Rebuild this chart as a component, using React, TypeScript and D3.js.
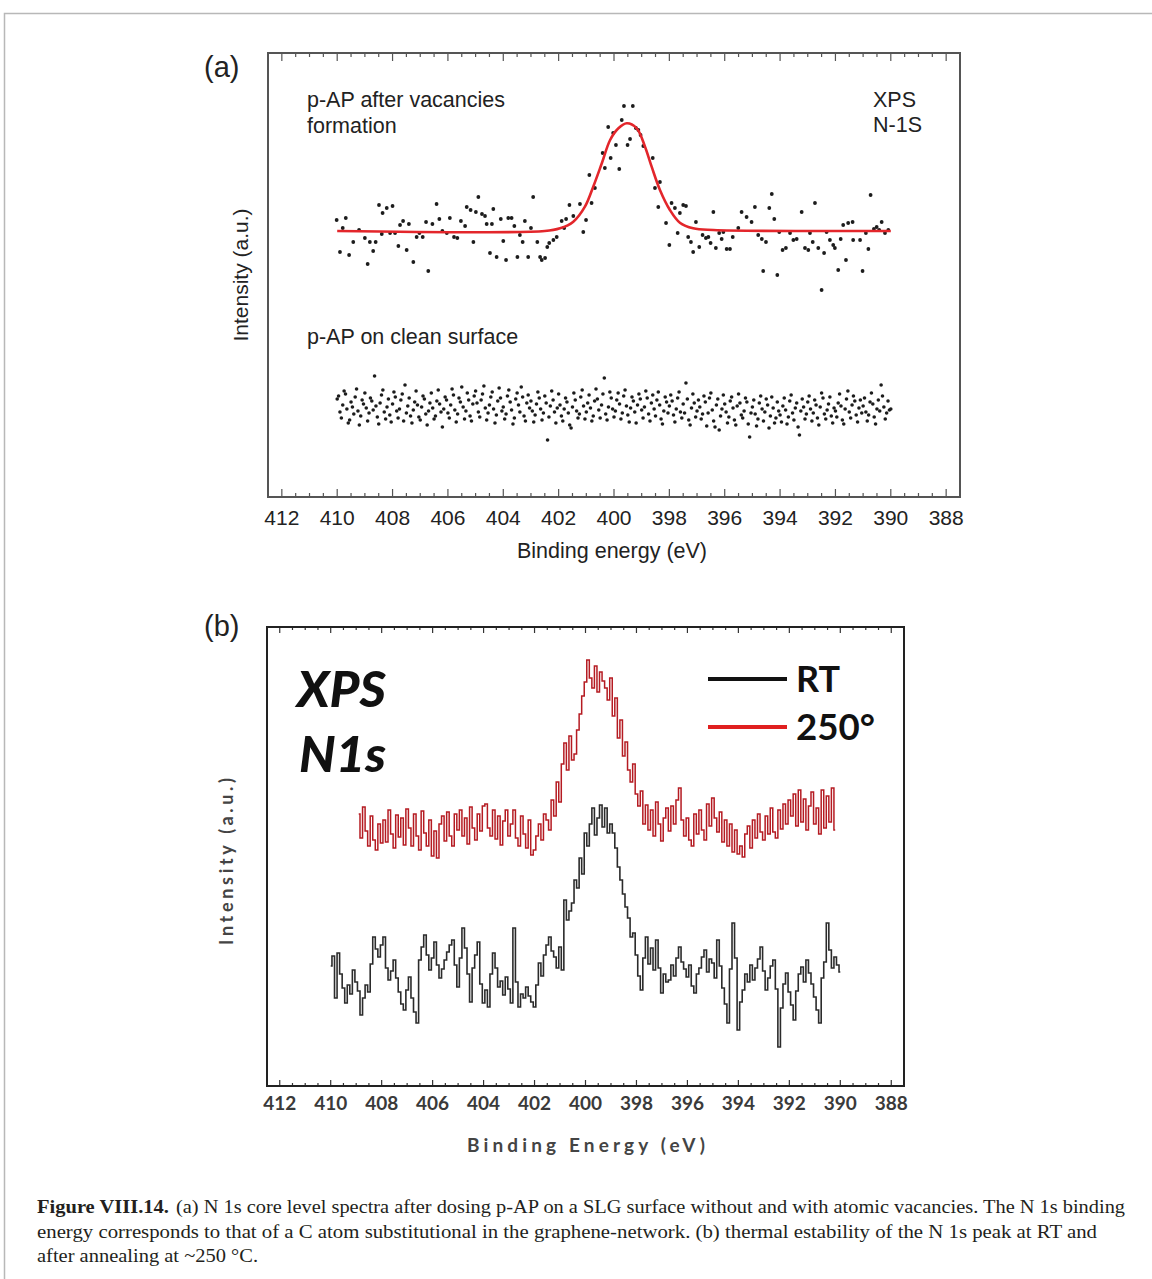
import React from 'react';
import * as d3 from 'd3';

// ---------- Panel (a) data ----------
const tickLabels = ['412', '410', '408', '406', '404', '402', '400', '398', '396', '394', '392', '390', '388'];

// p-AP after vacancies formation (scatter), binding energy (eV) / intensity (a.u.)
const vacE = [410.02,409.90,409.80,409.69,409.57,409.42,409.21,409.00,408.90,408.82,408.70,408.61,408.49,408.39,408.36,408.21,408.09,408.00,407.91,407.79,407.73,407.62,407.49,407.41,407.25,407.13,407.03,406.91,406.79,406.71,406.56,406.41,406.31,406.20,406.04,405.93,405.78,405.66,405.53,405.38,405.32,405.18,405.08,404.99,404.90,404.77,404.66,404.60,404.48,404.41,404.36,404.24,404.09,404.00,403.90,403.82,403.70,403.60,403.49,403.40,403.30,403.22,403.10,403.00,402.92,402.77,402.67,402.61,402.49,402.41,402.34,402.19,402.07,401.89,401.80,401.73,401.61,401.47,401.23,401.11,401.01,400.89,400.81,400.69,400.41,400.33,400.21,400.12,400.03,399.93,399.81,399.72,399.64,399.51,399.42,399.32,399.21,399.12,399.04,398.94,398.60,398.52,398.40,398.34,398.12,398.00,397.92,397.80,397.70,397.62,397.50,397.40,397.32,397.22,397.14,397.04,396.92,396.80,396.68,396.59,396.51,396.41,396.32,396.20,396.11,396.05,395.93,395.81,395.71,395.51,395.39,395.21,395.03,394.91,394.79,394.66,394.61,394.51,394.39,394.30,394.21,394.10,394.03,393.91,393.79,393.64,393.52,393.40,393.22,393.10,392.98,392.92,392.82,392.74,392.62,392.50,392.41,392.32,392.20,392.08,392.02,391.90,391.81,391.72,391.62,391.54,391.38,391.36,391.11,391.02,390.90,390.81,390.73,390.61,390.51,390.42,390.33,390.21,390.09];
const vacI = [277,245,269,279,242,255,267,259,233,255,246,255,292,263,284,289,264,291,264,251,272,276,247,273,235,260,264,260,275,226,273,293,278,266,264,279,260,259,276,271,290,287,255,285,300,283,281,273,244,273,288,240,278,256,237,279,279,271,240,262,255,276,240,269,300,255,240,237,239,250,254,257,260,276,269,278,292,281,293,265,277,322,294,309,344,329,370,339,364,352,328,377,391,352,358,391,369,367,362,351,339,309,290,315,274,252,294,289,264,284,292,291,260,255,245,275,250,262,259,260,254,285,249,264,258,265,248,248,260,269,285,280,275,290,262,258,226,255,289,303,278,222,265,247,249,264,257,258,285,249,247,264,255,294,249,207,244,265,257,252,249,227,258,272,237,274,275,257,257,226,264,248,302,268,270,267,275,264,267];

// Gaussian fit curve
const fitE = [410.0, 402.5, 401.95, 401.47, 401.05, 400.75, 400.44, 400.14, 399.84, 399.54, 399.18, 398.88, 398.64, 398.34, 397.98, 397.62, 397.14, 396.41, 390.0];
const fitI = [266, 266, 268.7, 275.3, 290.3, 310.3, 333.7, 357, 368.7, 373.7, 368.7, 350.3, 330.3, 307, 287, 274.3, 268.7, 267, 266];

// p-AP on clean surface (scatter, 0.05 eV steps from 410 eV)
const cleanStart = 410;
const cleanStep = 0.05;
const cleanI = [
98,101,85,79,92,106,103,88,74,77,95,90,83,100,108,86,72,81,97,93,
104,89,76,84,99,96,87,121,91,80,73,94,102,107,85,78,90,98,82,75,
93,105,100,86,79,88,97,103,76,112,84,91,99,81,74,87,95,106,92,80,
77,90,101,98,83,72,86,94,104,89,78,81,96,107,93,85,70,88,100,97,
84,79,92,108,102,87,75,83,99,95,110,90,78,86,104,97,81,76,93,101,
106,94,85,80,97,103,111,89,77,84,92,100,105,88,74,82,96,109,99,86,
90,78,83,101,107,95,87,73,79,98,104,92,85,110,100,81,76,94,102,89,
96,86,75,82,93,105,99,88,77,84,101,94,57,80,91,106,97,85,74,89,
103,92,81,76,88,99,95,84,72,69,90,104,97,86,79,83,100,107,91,78,
85,94,102,89,76,81,96,108,98,87,79,92,103,119,83,77,90,105,99,88,
80,86,97,104,93,78,84,101,107,91,82,75,89,100,96,85,74,92,103,98,
87,79,90,106,99,83,76,94,102,88,81,97,105,92,78,73,86,100,95,84,
91,102,96,82,75,88,99,105,85,79,93,84,114,98,77,72,89,103,94,80,
86,97,90,78,83,101,95,71,84,99,104,87,76,70,92,98,67,81,88,102,
93,85,74,80,96,100,89,77,72,91,103,94,82,79,86,99,95,73,60,84,
90,97,83,71,78,94,101,88,76,85,98,92,69,81,100,89,74,79,95,86,
82,75,91,99,87,73,80,96,102,84,77,89,94,70,62,86,98,90,78,83,
95,101,88,76,84,97,92,79,72,90,104,99,83,78,87,93,100,81,74,89,
86,80,94,103,91,77,73,88,98,106,85,79,92,101,96,82,75,89,97,84,
91,99,85,76,82,95,104,93,80,73,88,97,86,112,101,90,78,84,96,87,
88];

// ---------- Panel (b) data ----------
const seriesNames = ['RT', '250°'];
// 250 °C trace, 0.1 eV steps from 408.9 eV
const hotStart = 408.9;
const hotStep = 0.1;
const hotI = [
272,248,279,255,240,270,246,236,262,243,
266,244,276,252,238,271,249,268,241,277,
258,240,272,250,236,275,253,240,266,230,
255,228,262,270,245,274,250,240,272,256,
276,250,268,242,279,258,246,272,255,280,
282,258,250,276,247,270,241,265,276,250,
262,276,248,240,270,252,238,266,231,236,
250,262,246,272,266,256,286,270,304,284,
322,343,316,350,326,332,356,372,390,404,
426,408,398,420,394,414,405,398,386,408,
370,388,348,366,330,344,316,304,322,292,
280,295,262,281,256,276,250,284,262,245,
268,278,255,280,262,286,298,266,250,268,
246,240,272,252,276,256,246,282,260,288,
268,254,274,244,266,240,262,234,256,232,
240,229,252,260,238,266,248,272,254,246,
270,252,278,254,248,276,257,282,262,286,
270,292,260,296,264,287,256,280,294,262,
278,252,296,258,290,264,298,256];
// RT trace, 0.1 eV steps from 410.0 eV
const rtStart = 410.0;
const rtStep = 0.1;
const rtI = [
120,130,88,133,112,98,83,101,92,116,
104,95,71,88,101,94,122,149,137,129,
141,149,118,106,115,126,108,94,82,76,
96,109,88,74,63,126,139,151,131,116,
128,144,121,108,117,126,134,141,146,121,
99,128,158,138,112,84,118,131,144,102,
83,96,79,112,133,118,99,105,91,109,
97,83,158,104,79,92,88,99,90,84,
79,101,123,110,131,141,149,135,129,118,
139,116,186,166,175,183,206,198,228,212,
253,240,262,278,251,268,281,259,278,253,
262,253,238,219,206,192,179,168,149,153,
131,110,96,128,149,122,138,116,146,118,
93,112,104,106,121,110,128,139,124,117,
109,121,100,93,112,118,129,136,114,127,
123,108,146,120,98,82,63,117,163,128,
56,84,96,112,104,121,106,118,127,139,
115,96,108,120,126,97,39,78,102,113,
94,81,66,95,112,119,104,126,113,102,
89,76,63,108,124,163,136,118,129,121,114];

const captionLines = [
  '(a) N 1s core level spectra after dosing p-AP on a SLG surface without and with atomic vacancies. The N 1s binding',
  'energy corresponds to that of a C atom substitutional in the graphene-network. (b) thermal estability of the N 1s peak at RT and',
  'after annealing at ~250 °C.',
];

const SANS = "'Liberation Sans', Arial, Helvetica, sans-serif";
const CAL = "Lato, 'Open Sans', sans-serif";
const SERIF = "'Liberation Serif', 'DejaVu Serif', serif";

function Ticks({ x, y0, y1, major, minor, majLen, minLen, color }: any) {
  return (
    <g stroke={color} strokeWidth={1.2}>
      {major.map((e: number) => (
        <g key={'M' + e}>
          <line x1={x(e)} x2={x(e)} y1={y1} y2={y1 - majLen} />
          <line x1={x(e)} x2={x(e)} y1={y0} y2={y0 + majLen} />
        </g>
      ))}
      {minor.map((e: number) => (
        <g key={'m' + e}>
          <line x1={x(e)} x2={x(e)} y1={y1} y2={y1 - minLen} />
          <line x1={x(e)} x2={x(e)} y1={y0} y2={y0 + minLen} />
        </g>
      ))}
    </g>
  );
}

export default function App() {
  const ax = d3.scaleLinear().domain([412.5, 387.5]).range([268, 960]);
  const ay = d3.scaleLinear().domain([0, 444]).range([497, 53]);
  const bx = d3.scaleLinear().domain([412.5, 387.5]).range([267, 904]);
  const by = d3.scaleLinear().domain([0, 459]).range([1086, 627]);

  const majorE = tickLabels.map(Number);
  const minorE = d3.range(388, 412.001, 0.5).filter((e) => Math.abs(e / 2 - Math.round(e / 2)) > 1e-6);

  const vacPts = vacI.slice(0, Math.min(vacE.length, vacI.length)).map((v, i) => [vacE[i], v]);
  const cleanPts = cleanI.map((v, i) => [cleanStart - cleanStep * i, v]);
  const fitPts = fitE.map((e, i) => [e, fitI[i]]);

  const fitLine = d3.line<number[]>().x((d) => ax(d[0])).y((d) => ay(d[1])).curve(d3.curveCatmullRom.alpha(0.5));

  const hotPts = hotI.map((v, i) => [hotStart - hotStep * i, v]);
  const rtPts = rtI.map((v, i) => [rtStart - rtStep * i, v]);
  const stepLine = d3.line<number[]>().x((d) => bx(d[0])).y((d) => by(d[1])).curve(d3.curveStep);

  return (
    <svg width={1152} height={1279} style={{ position: 'absolute', left: 0, top: 0, background: '#fff' }}>
      <rect x={0} y={0} width={1152} height={1279} fill="#fff" />
      {/* page frame */}
      <path d="M4.5,1279 L4.5,13.5 L1152,13.5" fill="none" stroke="#b8b8b8" strokeWidth={1.5} />

      {/* ---------------- Panel (a) ---------------- */}
      <text x={204} y={77} fontFamily={SANS} fontSize={29} fill="#222">(a)</text>
      <Ticks x={ax} y0={53} y1={497} major={majorE} minor={minorE} majLen={8} minLen={4} color="#555" />
      <rect x={268} y={53} width={692} height={444} fill="none" stroke="#555" strokeWidth={2} />
      {tickLabels.map((t) => (
        <text key={t} x={ax(+t)} y={525} textAnchor="middle" fontFamily={SANS} fontSize={21} fill="#222">{t}</text>
      ))}
      <text x={612} y={558} textAnchor="middle" fontFamily={SANS} fontSize={21.5} fill="#222">Binding energy (eV)</text>
      <text transform="translate(248,275) rotate(-90)" textAnchor="middle" fontFamily={SANS} fontSize={21} fill="#222">Intensity (a.u.)</text>
      <text x={307} y={107} fontFamily={SANS} fontSize={21.5} fill="#222">p-AP after vacancies</text>
      <text x={307} y={133} fontFamily={SANS} fontSize={21.5} fill="#222">formation</text>
      <text x={873} y={107} fontFamily={SANS} fontSize={21.5} fill="#222">XPS</text>
      <text x={873} y={132} fontFamily={SANS} fontSize={21.5} fill="#222">N-1S</text>
      <text x={307} y={344} fontFamily={SANS} fontSize={21.5} fill="#222">p-AP on clean surface</text>

      <g fill="#1c1c1c">
        {vacPts.map((d, i) => (
          <circle key={'v' + i} cx={ax(d[0])} cy={ay(d[1])} r={1.9} />
        ))}
        {cleanPts.map((d, i) => (
          <circle key={'c' + i} cx={ax(d[0])} cy={ay(d[1])} r={1.8} />
        ))}
      </g>
      <path d={fitLine(fitPts) || ''} fill="none" stroke="#e3262b" strokeWidth={2.6} strokeLinejoin="round" />

      {/* ---------------- Panel (b) ---------------- */}
      <text x={204} y={636} fontFamily={SANS} fontSize={29} fill="#222">(b)</text>
      <Ticks x={bx} y0={627} y1={1086} major={majorE} minor={minorE} majLen={6} minLen={3} color="#333" />
      <rect x={267} y={627} width={637} height={459} fill="none" stroke="#222" strokeWidth={2} />
      {tickLabels.map((t) => (
        <text key={'b' + t} x={bx(+t)} y={1110} textAnchor="middle" fontFamily={CAL} fontWeight={700} fontSize={19} fill="#3a3a3a">{t}</text>
      ))}
      <text x={467} y={1152} textLength={238} lengthAdjust="spacing" fontFamily={CAL} fontWeight={700} fontSize={19} fill="#444">Binding Energy (eV)</text>
      <text transform="translate(233,945) rotate(-90)" textLength={167} lengthAdjust="spacing" fontFamily={CAL} fontWeight={700} fontSize={18} fill="#444">Intensity (a.u.)</text>
      <text x={297} y={707} textLength={89} lengthAdjust="spacingAndGlyphs" fontFamily={CAL} fontWeight={900} fontStyle="italic" fontSize={49} fill="#111">XPS</text>
      <text x={299} y={772} textLength={87} lengthAdjust="spacingAndGlyphs" fontFamily={CAL} fontWeight={900} fontStyle="italic" fontSize={49} fill="#111">N1s</text>

      <line x1={708} x2={787} y1={679} y2={679} stroke="#111" strokeWidth={4} />
      <text x={796} y={692} textLength={44} lengthAdjust="spacingAndGlyphs" fontFamily={CAL} fontWeight={700} fontSize={37} fill="#111">{seriesNames[0]}</text>
      <line x1={708} x2={787} y1={727} y2={727} stroke="#e0201f" strokeWidth={4} />
      <text x={796} y={740} textLength={79} lengthAdjust="spacingAndGlyphs" fontFamily={CAL} fontWeight={700} fontSize={37} fill="#111">{seriesNames[1]}</text>

      <path d={stepLine(hotPts) || ''} fill="none" stroke="#b51b22" strokeWidth={1.5} />
      <path d={stepLine(rtPts) || ''} fill="none" stroke="#2b2b2b" strokeWidth={1.6} />

      {/* ---------------- Caption ---------------- */}
      <text x={37} y={1213} textLength={132} lengthAdjust="spacingAndGlyphs" fontFamily={SERIF} fontWeight={700} fontSize={19} fill="#231f20">Figure VIII.14.</text>
      <text x={176} y={1213} textLength={949} lengthAdjust="spacingAndGlyphs" fontFamily={SERIF} fontSize={19} fill="#231f20">{captionLines[0]}</text>
      <text x={37} y={1238} textLength={1060} lengthAdjust="spacingAndGlyphs" fontFamily={SERIF} fontSize={19} fill="#231f20">{captionLines[1]}</text>
      <text x={37} y={1262} textLength={221} lengthAdjust="spacingAndGlyphs" fontFamily={SERIF} fontSize={19} fill="#231f20">{captionLines[2]}</text>
    </svg>
  );
}
